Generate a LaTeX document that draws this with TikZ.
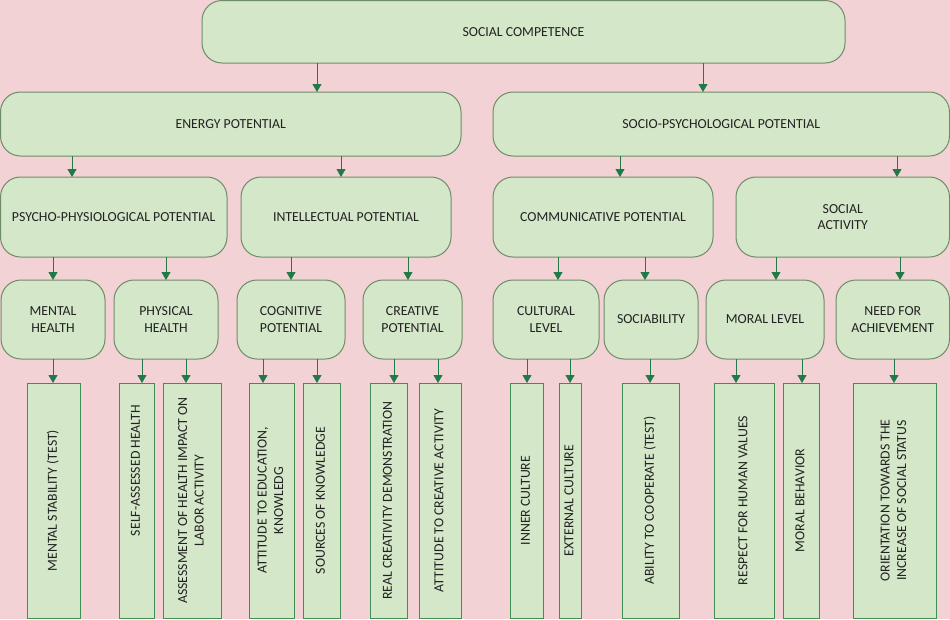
\documentclass[tikz,border=0pt]{standalone}
\usepackage{fontspec}
\setmainfont{Carlito}
\usetikzlibrary{arrows.meta}
\definecolor{bgpink}{HTML}{F2D2D4}
\definecolor{boxfill}{HTML}{D4E7C8}
\definecolor{boxline}{HTML}{6F8C68}
\definecolor{leafline}{HTML}{3F8F52}
\definecolor{arrowgreen}{HTML}{1F7A47}
\definecolor{txt}{HTML}{222222}
\newcommand\mkbox[7]{\node[#1, minimum width={(#4)-(#3)}, minimum height={(#6)-(#5)}] (#2) at ({((#3)+(#4))/2},{((#5)+(#6))/2}) {#7};}
\newcommand\vtext[1]{\rotatebox{90}{\begin{tabular}{@{}c@{}}#1\end{tabular}}}
\begin{document}
\begin{tikzpicture}[x=1pt,y=-1pt,
 rbox/.style={draw=boxline, fill=boxfill, text=txt, rounded corners=20pt, line width=1pt, inner sep=1pt, outer sep=0pt, align=center, font=\fontsize{13.8}{16.5}\selectfont},
 leaf/.style={draw=leafline, fill=boxfill, text=txt, line width=1pt, inner sep=0pt, outer sep=0pt, align=center, font=\fontsize{13.8}{16.5}\selectfont},
 arr/.style={draw=arrowgreen, line width=0.9pt, -{Triangle[width=9pt,length=8pt]}}]
\fill[bgpink] (0,0) rectangle (950,619);
\useasboundingbox (0,0) rectangle (950,619);
% level 1
\mkbox{rbox}{top}{202}{845}{0.5}{63}{SOCIAL COMPETENCE}
% level 2
\mkbox{rbox}{energy}{0.5}{461}{92}{156}{ENERGY POTENTIAL}
\mkbox{rbox}{socio}{493}{949.5}{92}{156}{SOCIO-PSYCHOLOGICAL POTENTIAL}
% level 3
\mkbox{rbox}{psy}{0.5}{227}{177}{257}{PSYCHO-PHYSIOLOGICAL POTENTIAL}
\mkbox{rbox}{int}{241}{451}{177}{257}{INTELLECTUAL POTENTIAL}
\mkbox{rbox}{com}{493}{713}{177}{257}{COMMUNICATIVE POTENTIAL}
\mkbox{rbox}{sact}{736}{949.5}{177}{257}{SOCIAL\\ACTIVITY}
% level 4
\mkbox{rbox}{mh}{1}{105}{280}{359}{MENTAL\\HEALTH}
\mkbox{rbox}{ph}{114}{218}{280}{359}{PHYSICAL\\HEALTH}
\mkbox{rbox}{cog}{237}{345}{280}{359}{COGNITIVE\\POTENTIAL}
\mkbox{rbox}{cre}{363}{462}{280}{359}{CREATIVE\\POTENTIAL}
\mkbox{rbox}{cul}{493}{599}{280}{359}{CULTURAL\\LEVEL}
\mkbox{rbox}{soc}{604}{698}{280}{359}{SOCIABILITY}
\mkbox{rbox}{mor}{706}{824}{280}{359}{MORAL LEVEL}
\mkbox{rbox}{nfa}{836}{949.5}{280}{359}{NEED FOR\\ACHIEVEMENT}
% level 5
\mkbox{leaf}{ms}{27}{80}{383}{618}{\vtext{MENTAL STABILITY (TEST)}}
\mkbox{leaf}{sah}{119}{154}{383}{618}{\vtext{\hspace*{60pt}SELF-ASSESSED HEALTH}}
\mkbox{leaf}{ahi}{163}{221}{383}{618}{\vtext{ASSESSMENT OF HEALTH IMPACT ON\\LABOR ACTIVITY}}
\mkbox{leaf}{ate}{249}{294}{383}{618}{\vtext{ATTITUDE TO EDUCATION,\\KNOWLEDG}}
\mkbox{leaf}{sok}{303}{340}{383}{618}{\vtext{SOURCES OF KNOWLEDGE}}
\mkbox{leaf}{rcd}{370}{407}{383}{618}{\vtext{REAL CREATIVITY DEMONSTRATION}}
\mkbox{leaf}{atc}{419}{461}{383}{618}{\vtext{ATTITUDE TO CREATIVE ACTIVITY}}
\mkbox{leaf}{inc}{510}{543}{383}{618}{\vtext{INNER CULTURE}}
\mkbox{leaf}{exc}{559}{581}{383}{618}{\vtext{EXTERNAL CULTURE}}
\mkbox{leaf}{abc}{622}{679}{383}{618}{\vtext{ABILITY TO COOPERATE (TEST)}}
\mkbox{leaf}{rhv}{714}{774}{383}{618}{\vtext{RESPECT FOR HUMAN VALUES}}
\mkbox{leaf}{mb}{783}{819}{383}{618}{\vtext{MORAL BEHAVIOR}}
\mkbox{leaf}{ots}{853}{936}{383}{618}{\vtext{ORIENTATION TOWARDS THE\\INCREASE OF SOCIAL STATUS}}
% arrows
\draw[arr] (top.south -| 317,0) -- (energy.north -| 317,0);
\draw[arr] (top.south -| 703,0) -- (socio.north -| 703,0);
\draw[arr] (energy.south -| 72,0) -- (psy.north -| 72,0);
\draw[arr] (energy.south -| 341,0) -- (int.north -| 341,0);
\draw[arr] (socio.south -| 620,0) -- (com.north -| 620,0);
\draw[arr] (socio.south -| 897,0) -- (sact.north -| 897,0);
\draw[arr] (psy.south -| 53,0) -- (mh.north -| 53,0);
\draw[arr] (psy.south -| 166,0) -- (ph.north -| 166,0);
\draw[arr] (int.south -| 291,0) -- (cog.north -| 291,0);
\draw[arr] (int.south -| 408,0) -- (cre.north -| 408,0);
\draw[arr] (com.south -| 558,0) -- (cul.north -| 558,0);
\draw[arr] (com.south -| 645,0) -- (soc.north -| 645,0);
\draw[arr] (sact.south -| 776,0) -- (mor.north -| 776,0);
\draw[arr] (sact.south -| 900,0) -- (nfa.north -| 900,0);
\draw[arr] (mh.south -| 53,0) -- (ms.north -| 53,0);
\draw[arr] (ph.south -| 142,0) -- (sah.north -| 142,0);
\draw[arr] (ph.south -| 186,0) -- (ahi.north -| 186,0);
\draw[arr] (cog.south -| 263,0) -- (ate.north -| 263,0);
\draw[arr] (cog.south -| 317,0) -- (sok.north -| 317,0);
\draw[arr] (cre.south -| 394,0) -- (rcd.north -| 394,0);
\draw[arr] (cre.south -| 438,0) -- (atc.north -| 438,0);
\draw[arr] (cul.south -| 527,0) -- (inc.north -| 527,0);
\draw[arr] (cul.south -| 570,0) -- (exc.north -| 570,0);
\draw[arr] (soc.south -| 650,0) -- (abc.north -| 650,0);
\draw[arr] (mor.south -| 736,0) -- (rhv.north -| 736,0);
\draw[arr] (mor.south -| 802,0) -- (mb.north -| 802,0);
\draw[arr] (nfa.south -| 894,0) -- (ots.north -| 894,0);
\end{tikzpicture}
\end{document}
